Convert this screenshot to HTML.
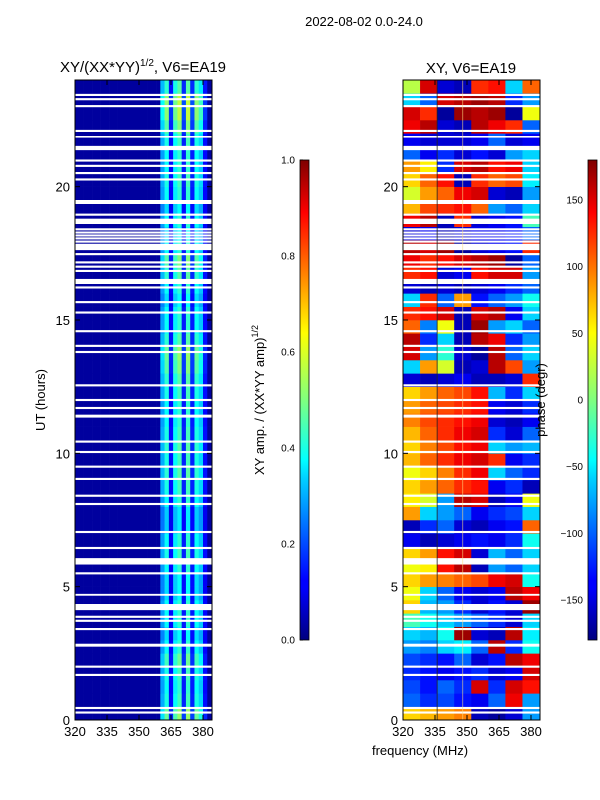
<!DOCTYPE html>
<html><head><meta charset="utf-8"><style>
body{margin:0;background:#fff;}
svg{display:block;font-family:"Liberation Sans",sans-serif;}
</style></head><body>
<svg id="fig" width="600" height="800" viewBox="0 0 600 800" xmlns="http://www.w3.org/2000/svg">
<defs>
<linearGradient id="jet" x1="0" y1="1" x2="0" y2="0">
<stop offset="0" stop-color="#00007f"/><stop offset="0.11" stop-color="#0000ff"/><stop offset="0.125" stop-color="#0000ff"/>
<stop offset="0.34" stop-color="#00d4ff"/><stop offset="0.375" stop-color="#00ffff"/><stop offset="0.5" stop-color="#7fff7f"/>
<stop offset="0.64" stop-color="#ffff00"/><stop offset="0.89" stop-color="#ff0000"/><stop offset="1" stop-color="#7f0000"/>
</linearGradient>
</defs>
<text x="364" y="26" text-anchor="middle" font-size="13">2022-08-02 0.0-24.0</text>
<text x="143" y="72" text-anchor="middle" font-size="15">XY/(XX*YY)<tspan font-size="10" dy="-6">1/2</tspan><tspan dy="6">, V6=EA19</tspan></text>
<text x="471" y="73" text-anchor="middle" font-size="15">XY, V6=EA19</text>
<g id="p1"></g>
<g id="p2"></g>
<g id="ax"></g>
<text transform="translate(45,400) rotate(-90)" text-anchor="middle" font-size="13">UT (hours)</text>
<text x="420" y="755" text-anchor="middle" font-size="13">frequency (MHz)</text>
<rect x="300" y="160" width="9" height="480" fill="url(#jet)" stroke="#000" stroke-width="0.8"/>
<rect x="588" y="160" width="9" height="480" fill="url(#jet)" stroke="#000" stroke-width="0.8"/>
<text transform="translate(264,400) rotate(-90)" text-anchor="middle" font-size="13">XY amp. / (XX*YY amp)<tspan font-size="9" dy="-6">1/2</tspan></text>
<text transform="translate(545,400) rotate(-90)" text-anchor="middle" font-size="13">phase (degr)</text>
</svg>
<script>
// time gaps (flagged), hours
const gapCenters=[23.44,23.28,23.02,22.09,20.98,20.78,20.51,20.27,18.95,18.4,18.28,18.17,18.06,17.94,17.47,17.16,17.0,16.84,16.22,15.67,15.28,14.58,14.03,13.8,12.55,12.0,11.7,10.44,10.05,9.5,9.04,8.41,8.1,7.05,6.45,5.5,3.87,3.72,3.41,2.0,1.69,0.45,0.28];
const gapBands=[[21.84,21.9],[21.37,21.53],[19.35,19.5],[18.6,18.8],[17.62,17.86],[16.35,16.54],[11.34,11.45],[5.83,6.07],[4.66,4.73],[4.12,4.35],[2.75,2.86]];
// amplitude per 2-MHz channel (320-384 MHz)
const chanAmp=[0.03,0.03,0.03,0.03,0.03,0.03,0.03,0.03,0.03,0.03,0.03,0.03,0.03,0.03,0.03,0.03,0.03,0.03,0.03,0.03,0.28,0.38,0.13,0.36,0.42,0.15,0.42,0.15,0.38,0.32,0.13,0.03];
// amplitude row factor, 48 half-hour rows, bottom (0h) up
const rowAmp=[1.25,1.05,1.0,1.05,1.15,1.0,0.9,1.0,1.0,0.9,0.9,1.0,1.05,1.0,0.85,0.85,1.0,1.05,1.1,1.05,1.1,1.05,1.0,1.0,1.05,1.1,1.2,1.25,1.1,1.0,1.0,0.9,1.0,1.1,1.2,1.0,0.9,1.0,0.9,1.0,1.05,1.0,1.0,1.05,1.2,1.35,1.35,1.1];
// phase (deg), 48 half-hour rows top-down (24h first), 8 freq blocks of 8 MHz
const phaseTopDown=[
[20,150,-150,-160,120,130,-60,100],[-60,-100,150,160,170,160,-120,-80],[150,120,-170,170,160,170,-170,40],[140,160,-150,-160,160,140,120,-100],
[-140,-150,-150,-150,-140,-100,-150,-140],[-100,-140,-120,-150,-130,-150,-80,-60],[80,50,-120,150,160,130,140,-60],[60,100,130,-160,120,100,110,-50],
[30,80,100,140,150,-150,-160,-80],[70,110,120,130,100,-80,-100,-60],[140,160,-160,120,-150,-140,-130,-20],[-150,-140,-160,-150,-140,-140,-130,-100],
[160,150,170,-170,-150,-140,-130,120],[140,120,130,150,160,170,-170,-100],[120,130,-150,-140,130,150,150,-80],[-150,-160,-150,-160,-150,-140,-120,-100],
[-60,120,-100,80,-130,-100,-80,-40],[120,130,150,-160,150,160,-140,-60],[100,-90,40,-160,170,-80,-60,-100],[160,-120,-60,-160,160,140,-120,-80],
[150,-80,-30,-150,-170,160,-100,-60],[-60,80,30,-160,-150,160,110,-80],[-150,-160,-150,-140,-160,-160,-150,120],[60,80,100,110,130,-70,-120,-60],
[80,100,110,120,130,-140,-150,-120],[90,110,120,130,140,-150,-160,-140],[70,100,120,140,150,-120,-150,-100],[60,90,110,130,140,-60,-80,-70],
[70,100,120,140,150,120,-140,-120],[40,60,90,120,140,-60,-100,-120],[60,80,100,120,130,-140,-120,-160],[50,30,-80,160,150,-160,-140,40],
[80,-60,-80,-100,-140,-120,-110,-60],[-160,-120,-100,-150,-160,-140,-130,100],[-140,-160,-150,-140,-130,-140,-120,-40],[60,80,130,150,-150,-70,-100,-60],
[40,50,130,160,-160,-80,-100,-60],[60,80,90,100,110,140,150,-40],[40,-60,-100,-140,-150,-140,160,140],[60,-70,-80,-120,-150,-130,-150,170],
[-20,-40,-60,-80,-100,-120,-150,-60],[-60,-70,-40,170,-150,-160,160,-50],[-80,-90,-60,-50,-100,160,-120,-40],[-110,-120,-130,-100,-150,-130,160,140],
[-120,-130,-140,-130,-120,-150,-140,150],[-110,-130,-100,-120,150,-120,150,130],[-100,-120,-110,-130,-140,-100,140,-80],[60,70,80,90,-160,-170,-150,-80]];
const xTicks=[320,335,350,365,380];
const yTicks=[0,5,10,15,20];
const cb1Ticks=[0.0,0.2,0.4,0.6,0.8,1.0];
const cb2Ticks=[-150,-100,-50,0,50,100,150];

const NS="http://www.w3.org/2000/svg";
const Y0=720,Y1=80;
function yS(h){return Y0-(h/24)*(Y0-Y1);}
function xS(f,x0){return x0+(f-320)*32/15;}
function jet(v){v=Math.max(0,Math.min(1,v));
 const r=Math.max(0,Math.min(1,1.5-Math.abs(4*v-3)));
 const g=Math.max(0,Math.min(1,1.5-Math.abs(4*v-2)));
 const b=Math.max(0,Math.min(1,1.5-Math.abs(4*v-1)));
 return `rgb(${Math.round(r*255)},${Math.round(g*255)},${Math.round(b*255)})`;}
function mk(tag,attrs,parent){const e=document.createElementNS(NS,tag);for(const k in attrs)e.setAttribute(k,attrs[k]);parent.appendChild(e);return e;}
const p1=document.getElementById('p1'),p2=document.getElementById('p2'),ax=document.getElementById('ax');
const nRows=rowAmp.length;
for(let r=0;r<nRows;r++){
 const h0=r*24/nRows,h1=(r+1)*24/nRows;
 for(let c=0;c<chanAmp.length;c++){
  const f0=320+c*2,f1=f0+2;
  const x=xS(f0,75),w=xS(Math.min(f1,384),75)-x;
  const e=mk('rect',{x:x,y:yS(h1),width:w+0.3,height:yS(h0)-yS(h1)+0.3,fill:jet(chanAmp[c]*(chanAmp[c]>0.1?rowAmp[r]:1))},p1);
  
  
 }
}
const phaseRows=phaseTopDown.slice().reverse();
for(let r=0;r<phaseRows.length;r++){
 const h0=r*24/phaseRows.length,h1=(r+1)*24/phaseRows.length;
 for(let c=0;c<phaseRows[r].length;c++){
  const f0=320+c*8,f1=f0+8;
  const x=xS(f0,403),w=xS(Math.min(f1,384),403)-x;
  const e=mk('rect',{x:x,y:yS(h1),width:w+0.3,height:yS(h0)-yS(h1)+0.3,fill:jet((phaseRows[r][c]+180)/360)},p2);
  
  
 }
}
[[75,p1],[403,p2]].forEach(([x0,g])=>{
 gapCenters.forEach(h=>{const e=mk('rect',{x:x0,y:yS(h+0.04),width:137,height:yS(h-0.04)-yS(h+0.04),fill:'#fff'},g);
  });
 gapBands.forEach(b=>{const e=mk('rect',{x:x0,y:yS(b[1]),width:137,height:yS(b[0])-yS(b[1]),fill:'#fff'},g);
  });
});
mk('line',{x1:xS(336,403),x2:xS(336,403),y1:80,y2:720,stroke:'#222','stroke-width':0.8},p2);
mk('line',{x1:xS(348,403),x2:xS(348,403),y1:80,y2:720,stroke:'#ffe080','stroke-width':0.8,opacity:0.7},p2);
[75,403].forEach((x0,i)=>{
 const fr=mk('rect',{x:x0,y:80,width:137,height:640,fill:'none',stroke:'#000','stroke-width':1},ax);
 
 
 xTicks.forEach(f=>{const x=xS(f,x0);
  mk('line',{x1:x,x2:x,y1:720,y2:715,stroke:'#000'},ax);mk('line',{x1:x,x2:x,y1:80,y2:85,stroke:'#000'},ax);
  const t=mk('text',{x:x,y:736,'text-anchor':'middle','font-size':13},ax);t.textContent=f;
  });
 yTicks.forEach(h=>{const y=yS(h);
  mk('line',{x1:x0,x2:x0+5,y1:y,y2:y,stroke:'#000'},ax);mk('line',{x1:x0+137,x2:x0+132,y1:y,y2:y,stroke:'#000'},ax);
  const t=mk('text',{x:x0-5,y:y+5,'text-anchor':'end','font-size':13},ax);t.textContent=h;
  });
});
cb1Ticks.forEach(v=>{const y=640-v*480;
 mk('line',{x1:300,x2:303,y1:y,y2:y,stroke:'#000'},ax);
 const t=mk('text',{x:295,y:y+3.5,'text-anchor':'end','font-size':10},ax);t.textContent=v.toFixed(1);
 });
cb2Ticks.forEach(v=>{const y=400-v*480/360;
 mk('line',{x1:588,x2:591,y1:y,y2:y,stroke:'#000'},ax);
 const t=mk('text',{x:583,y:y+3.5,'text-anchor':'end','font-size':10},ax);t.textContent=v<0?'\u2212'+(-v):v;
 });
</script>
</body></html>
